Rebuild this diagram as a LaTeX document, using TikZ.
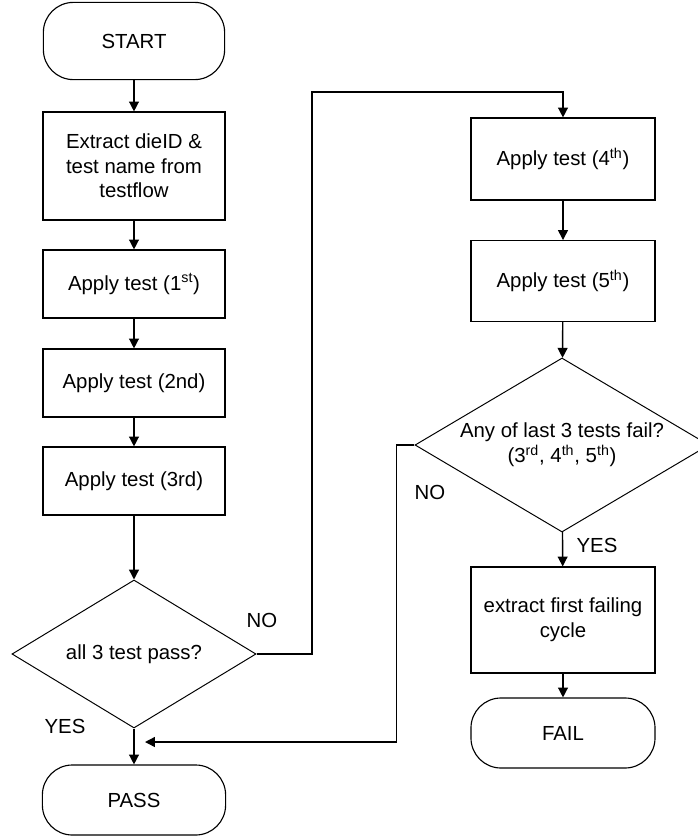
\documentclass[tikz,border=0pt]{standalone}
\usepackage{fontspec}
\setmainfont{Liberation Sans}
\usetikzlibrary{shapes.geometric,arrows.meta}
\tikzstyle{proc} = [rectangle, draw=black, line width=0.8pt, minimum width=4.6cm, minimum height=1.7cm, align=center, inner sep=0pt]
\tikzstyle{term} = [proc, rounded corners=0.75cm]
\tikzstyle{dec} = [diamond, draw=black, line width=0.7pt, align=center, inner sep=0pt]
\tikzstyle{lbl} = [inner sep=0pt]
\tikzstyle{arr} = [draw=black, line width=1pt, -{Triangle[length=7pt,width=7pt]}]

\begin{document}
\begin{tikzpicture}[x=0.025cm, y=-0.025cm, font=\fontsize{14.5}{17.5}\selectfont]
            \useasboundingbox (0,0) rectangle (698,837);

            % left column
            \node (start) [term, minimum width=4.53cm, minimum height=1.93cm] at (134,41) {START};
            \node (ext) [proc, minimum width=4.55cm, minimum height=2.7cm] at (134,166) {Extract dieID \&\\test name from\\testflow};
            \node (t1) [proc, minimum width=4.55cm] at (134,284) {Apply test (1\textsuperscript{st})};
            \node (t2) [proc, minimum width=4.55cm] at (134,383) {Apply test (2nd)};
            \node (t3) [proc, minimum width=4.55cm] at (134,481) {Apply test (3rd)};
            \node (chkA) [dec, aspect=1.65, minimum width=6.1cm, minimum height=3.7cm] at (134,654) {all 3 test pass?};
            \node (pass) [term, minimum width=4.58cm, minimum height=1.75cm] at (134,800) {PASS};

            \node (noA) [lbl] at (262,620) {NO};
            \node (yesA) [lbl] at (65,726) {YES};

            % right column
            \node (t4) [proc, minimum width=4.6cm, minimum height=2.05cm] at (563,159) {Apply test (4\textsuperscript{th})};
            \node (t5) [proc, minimum width=4.6cm, minimum height=2.02cm] at (563,281) {Apply test (5\textsuperscript{th})};
            \node (chkB) [dec, aspect=1.69, minimum width=7.35cm, minimum height=4.35cm] at (562,445) {Any of last 3 tests fail?\\(3\textsuperscript{rd}, 4\textsuperscript{th}, 5\textsuperscript{th})};
            \node (fcyc) [proc, minimum width=4.6cm, minimum height=2.65cm] at (563,620) {extract first failing\\cycle};
            \node (fail) [term, minimum width=4.6cm, minimum height=1.75cm] at (563,733) {FAIL};

            \node (yesB) [lbl] at (597,545) {YES};
            \node (noB) [lbl] at (430,492) {NO};

            \coordinate (bendA) at (312,92);
            \coordinate (joinA) at (145,742);

            \draw[arr] (start) -- (ext);
            \draw[arr] (ext) -- (t1);
            \draw[arr] (t1) -- (t2);
            \draw[arr] (t2) -- (t3);
            \draw[arr] (t3) -- (chkA);
            \draw[arr] (chkA) -- (pass);
            \draw[arr] (chkA.east) -| (bendA) -| (t4.north);
            \draw[arr] (t4) -- (t5);
            \draw[arr] (t5) -- (chkB);
            \draw[arr] (chkB) -- (fcyc);
            \draw[arr] (fcyc) -- (fail);
            \draw[arr] (chkB.west) -- ++(-18,0) |- (joinA);
        \end{tikzpicture}
\end{document}
